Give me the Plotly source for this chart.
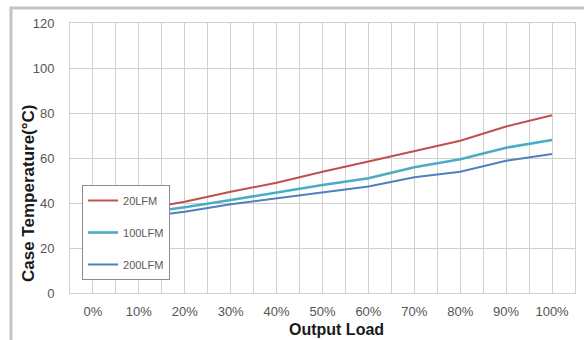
import plotly.graph_objects as go

load_pct = [0, 10, 20, 30, 40, 50, 60, 70, 80, 90, 100]
tick_labels = ["0%", "10%", "20%", "30%", "40%", "50%", "60%", "70%", "80%", "90%", "100%"]
lfm20 = [34.0, 37.0, 40.6, 45.0, 49.0, 53.9, 58.4, 63.2, 67.7, 74.0, 79.0]
lfm100 = [32.5, 35.3, 38.1, 41.3, 44.8, 48.0, 51.0, 55.9, 59.4, 64.6, 68.0]
lfm200 = [31.0, 33.5, 36.1, 39.4, 42.0, 44.6, 47.3, 51.4, 53.9, 58.8, 61.8]
series_names = ["20LFM", "100LFM", "200LFM"]
colors = ["#c0504d", "#4bacc6", "#4f81bd"]
widths = [2, 2.6, 2]

fig = go.Figure()
for i, (name, vals) in enumerate(zip(series_names, [lfm20, lfm100, lfm200])):
    fig.add_trace(go.Scatter(
        x=load_pct, y=vals, mode="lines", name=name,
        line=dict(color=colors[i], width=widths[i]),
        legendgroup=name,
    ))

grid_c = "#cfcfcf"
fig.update_layout(
    width=584, height=340,
    margin=dict(l=70, r=9, t=23, b=47),
    paper_bgcolor="white", plot_bgcolor="white",
    font=dict(family="Liberation Sans, Arial, sans-serif", color="#555555", size=13),
    showlegend=True,
    legend=dict(
        x=0.0238, y=0.4, xanchor="left", yanchor="top",
        bgcolor="white", bordercolor="#8c8c8c", borderwidth=1,
        font=dict(size=11, color="#595959"),
        tracegroupgap=13, itemwidth=30,
    ),
    xaxis=dict(
        range=[-5, 105], tickmode="array", tickvals=load_pct, ticktext=tick_labels,
        showgrid=True, gridcolor=grid_c, gridwidth=1,
        minor=dict(dtick=5, tick0=0, showgrid=True, gridcolor=grid_c, gridwidth=1),
        showline=True, mirror=True, linecolor=grid_c, linewidth=1,
        zeroline=False, ticks="", ticklabelstandoff=6, fixedrange=True,
    ),
    yaxis=dict(
        range=[0, 120], tick0=0, dtick=20,
        showgrid=True, gridcolor=grid_c, gridwidth=1,
        showline=True, mirror=True, linecolor=grid_c, linewidth=1,
        zeroline=False, ticks="", ticklabelstandoff=12, fixedrange=True,
    ),
    annotations=[
        dict(text="<b>Case Temperature(°C)</b>", xref="paper", yref="paper",
             x=(28 - 70) / 505, y=(293 - 194) / 270, textangle=-90, showarrow=False,
             xanchor="center", yanchor="middle",
             font=dict(size=17, color="#1a1a1a")),
        dict(text="<b>Output Load</b>", xref="paper", yref="paper",
             x=(336 - 70) / 505, y=(293 - 329) / 270, showarrow=False,
             xanchor="center", yanchor="middle",
             font=dict(size=16, color="#1a1a1a")),
    ],
    shapes=[
        dict(type="rect", xref="paper", yref="paper",
             x0=(11 - 70) / 505, x1=(590 - 70) / 505,
             y0=(293 - 350) / 270, y1=(293 - 8) / 270,
             line=dict(color="#c4c4c4", width=3), layer="below"),
    ],
)

fig.write_html("out.html")
